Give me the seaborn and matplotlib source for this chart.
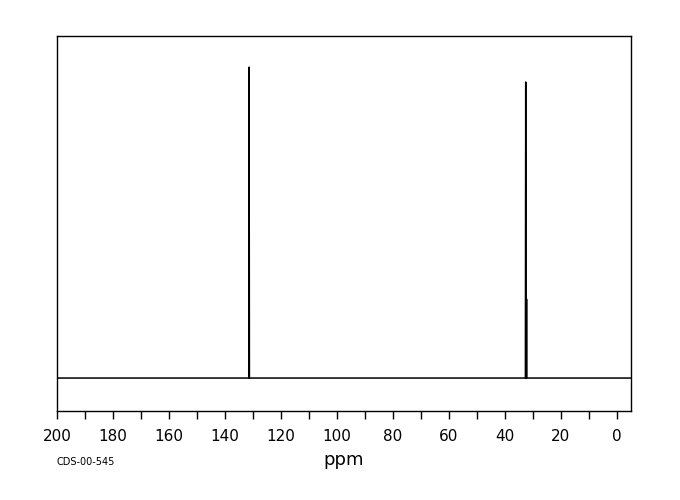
import numpy as np
import pandas as pd
import seaborn as sns
import matplotlib
matplotlib.use("Agg")
import matplotlib.pyplot as plt

# Peak list (chemical shift in ppm, relative intensity)
peak_ppm = [131.4, 32.6, 32.3]
peak_int = [100.0, 95.2, 25.4]
xticks = [200, 180, 160, 140, 120, 100, 80, 60, 40, 20, 0]
x_label = "ppm"
code_text = "CDS-00-545"

sns.set_theme(style="white")
plt.rcParams['font.family'] = ['DejaVu Sans']
plt.rcParams['text.color'] = 'black'
plt.rcParams['axes.labelcolor'] = 'black'
plt.rcParams['xtick.color'] = 'black'

# Build the spectrum trace from the peak list: baseline with narrow sticks
half_w = 0.12
xs = [205.0]
ys = [0.0]
order = np.argsort(peak_ppm)[::-1]
for i in order:
    p = peak_ppm[i]
    h = peak_int[i]
    xs += [p + half_w, p, p - half_w]
    ys += [0.0, h, 0.0]
xs.append(-5.0)
ys.append(0.0)
df = pd.DataFrame({"ppm": xs, "intensity": ys})

fig = plt.figure(figsize=(6.8, 5.0), dpi=100)
ax = fig.add_axes([57/680, 1-411/500, (631-57)/680, (411-36)/500])
sns.lineplot(data=df, x="ppm", y="intensity", sort=False, color="black",
             linewidth=1.1, ax=ax, estimator=None)

ax.set_xlim(200, -5)
ax.set_ylim(-10.6, 110)
ax.set_xticks(xticks)
ax.set_xticks(np.arange(190, -1, -20), minor=True)
ax.set_xticklabels([str(t) for t in xticks], fontsize=11)
ax.set_yticks([])
ax.set_ylabel("")
ax.set_xlabel(x_label, fontsize=13, labelpad=5)
ax.tick_params(axis="x", which="both", direction="out", length=6, width=1,
               color="black", labelcolor="black", bottom=True, pad=7)
for s in ax.spines.values():
    s.set_color("black")
    s.set_linewidth(1)
fig.text(57/680, 1-462/500, code_text, fontsize=7, va="center", ha="left",
         color="black")

fig.savefig("out.png", dpi=100, facecolor="white")
